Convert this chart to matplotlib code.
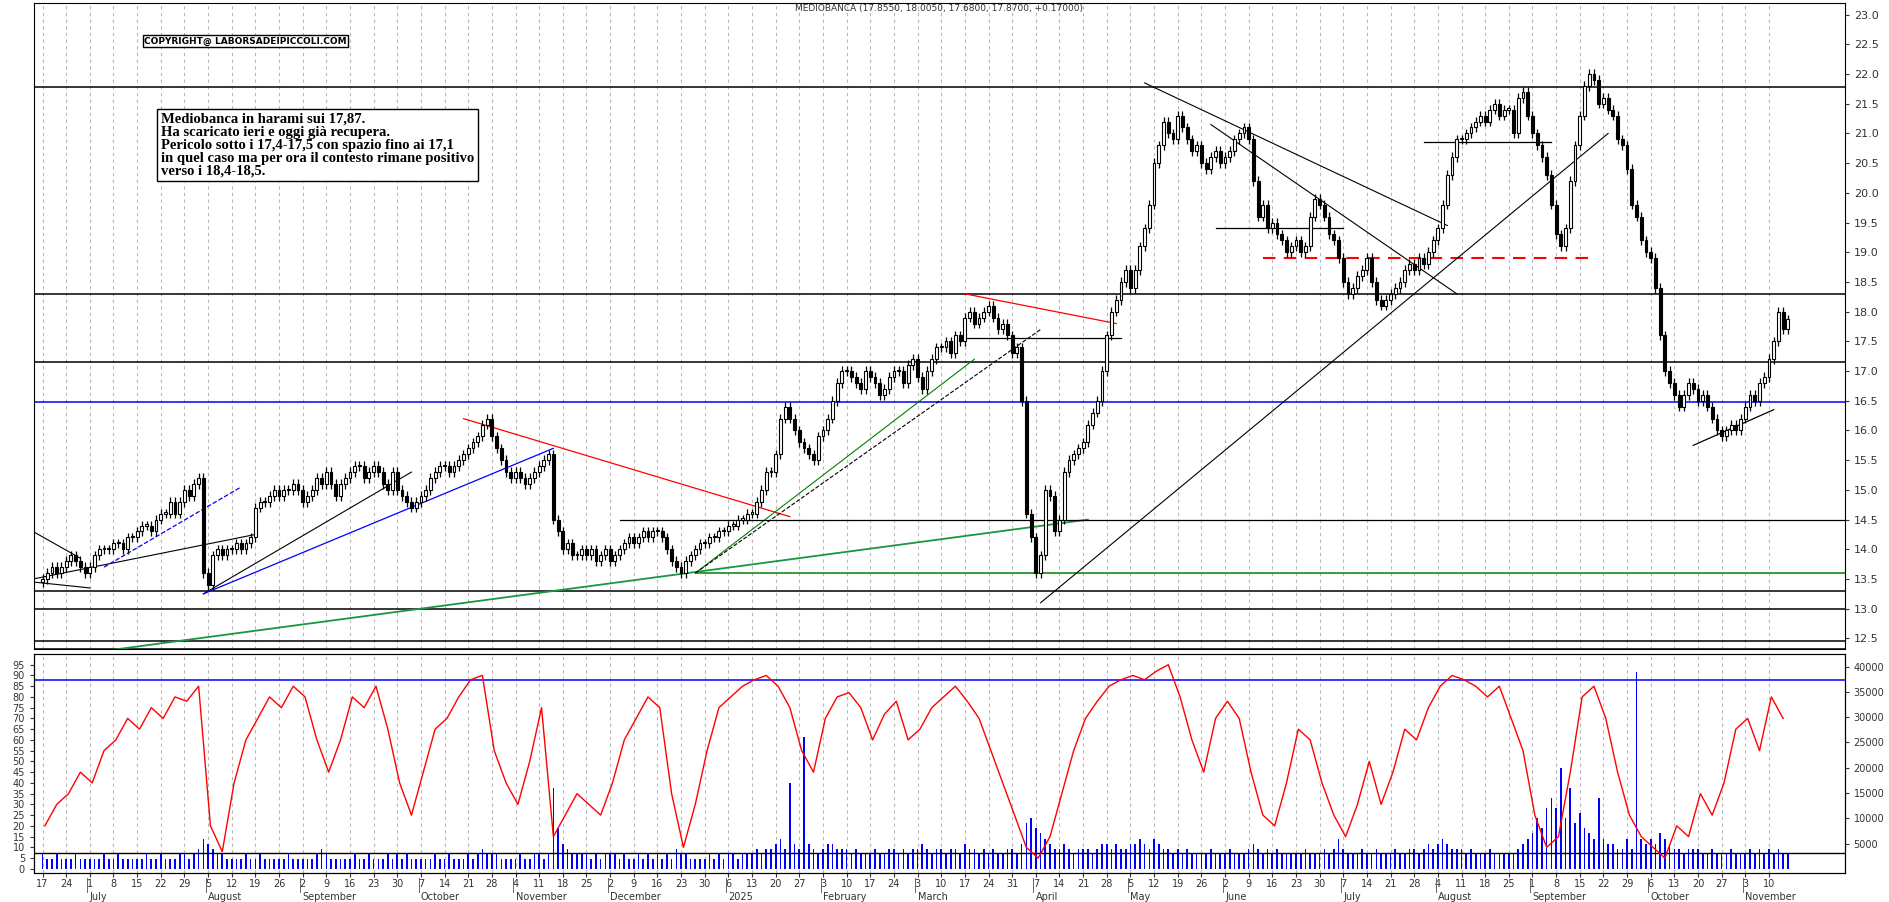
import matplotlib
matplotlib.use("Agg")
import matplotlib.pyplot as plt
import numpy as np
import pandas as pd

# ---------------- data ----------------
closes_weekly = [
 [13.5,13.6,13.7,13.6,13.7],[13.8,13.9,13.8,13.7,13.6],[13.7,13.9,14.0,14.0,14.0],
 [14.1,14.1,14.0,14.2,14.2],[14.3,14.4,14.4,14.3,14.5],[14.6,14.6,14.8,14.6,14.8],
 [15.0,14.9,15.1,15.2,13.6],[13.4,13.9,14.0,13.9,14.0],[14.0,14.1,14.0,14.1,14.2],
 [14.7,14.8,14.8,14.9,15.0],[14.9,15.0,15.0,15.1,15.0],[14.8,14.9,15.0,15.2,15.1],
 [15.3,15.1,14.9,15.1,15.2],[15.3,15.4,15.4,15.2,15.3],[15.4,15.3,15.1,15.0,15.3],
 [15.0,14.9,14.8,14.7,14.8],[14.9,15.0,15.2,15.3,15.4],[15.4,15.3,15.4,15.5,15.6],
 [15.7,15.8,15.9,16.1,16.2],[15.9,15.7,15.5,15.3,15.2],[15.3,15.2,15.1,15.2,15.3],
 [15.4,15.5,15.6,14.5,14.3],[14.0,14.1,13.9,13.9,14.0],[13.9,14.0,13.8,13.9,14.0],
 [13.8,13.9,14.0,14.1,14.2],[14.1,14.2,14.3,14.2,14.3],[14.3,14.2,14.0,13.8,13.7],
 [13.6,13.8,13.9,14.0,14.1],[14.1,14.2,14.2,14.3,14.3],[14.4,14.4,14.5,14.5,14.6],
 [14.6,14.8,15.0,15.3,15.3],[15.6,16.2,16.4,16.2,16.0],[15.8,15.7,15.6,15.5,15.9],
 [16.0,16.2,16.5,16.8,17.0],[17.0,16.9,16.8,16.7,17.0],[16.9,16.8,16.6,16.7,16.9],
 [17.0,17.0,16.8,17.1,17.2],[16.9,16.7,17.0,17.2,17.4],[17.4,17.5,17.3,17.6,17.5],
 [17.9,18.0,17.8,17.9,18.0],[18.1,17.9,17.7,17.8,17.6],[17.3,17.4,16.5,14.6,14.2],
 [13.6,13.9,15.0,14.9,14.3],[14.5,15.3,15.5,15.6,15.7],[15.8,16.1,16.3,16.5,17.0],
 [17.6,18.0,18.2,18.5,18.7],[18.4,18.7,19.1,19.4,19.8],[20.5,20.8,21.2,21.0,20.9],
 [21.3,21.1,20.9,20.7,20.8],[20.5,20.4,20.6,20.7,20.5],[20.6,20.7,20.9,21.0,21.1],
 [20.9,20.2,19.6,19.8,19.4],[19.5,19.3,19.2,19.0,19.1],[19.2,19.0,19.1,19.6,19.9],
 [19.8,19.6,19.3,19.2,18.9],[18.5,18.3,18.4,18.6,18.7],[18.9,18.5,18.2,18.1,18.2],
 [18.3,18.4,18.5,18.7,18.8],[18.7,18.9,18.8,19.0,19.2],[19.4,19.8,20.3,20.6,20.9],
 [20.9,21.0,21.1,21.2,21.3],[21.2,21.4,21.5,21.3,21.4],[21.4,21.0,21.6,21.7,21.3],
 [21.0,20.8,20.6,20.3,19.8],[19.3,19.1,19.4,20.2,20.8],[21.3,21.8,22.0,21.9,21.5],
 [21.6,21.4,21.3,20.9,20.8],[20.4,19.8,19.6,19.2,19.0],[18.9,18.4,17.6,17.0,16.8],
 [16.6,16.4,16.6,16.8,16.7],[16.5,16.6,16.4,16.2,16.0],[15.9,16.0,16.1,16.0,16.2],
 [16.4,16.6,16.5,16.8,16.9],[17.2,17.5,18.0,17.7,17.87],
]
first_open = 13.45

osc_weekly = [
 [20,30],[35,45],[40,55],[60,70],[65,75],[70,80],[78,85],[20,8],[40,60],[70,80],
 [75,85],[80,60],[45,60],[80,75],[85,65],[40,25],[45,65],[70,80],[88,90],[55,40],
 [30,50],[75,15],[25,35],[30,25],[40,60],[70,80],[75,35],[10,30],[55,75],[80,85],
 [88,90],[85,75],[55,45],[70,80],[82,75],[60,72],[78,60],[65,75],[80,85],[78,70],
 [55,40],[25,10],[5,15],[35,55],[70,78],[85,88],[90,88],[92,95],[80,60],[45,70],
 [78,70],[45,25],[20,40],[65,60],[40,25],[15,30],[50,30],[45,65],[60,75],[85,90],
 [88,85],[80,85],[70,55],[25,10],[15,45],[80,85],[70,45],[25,15],[10,5],[20,15],
 [35,25],[40,65],[70,55],[80,70],
]

vol_weekly = [  # thousands
 [3,2,2,3,2],[2,2,3,2,2],[2,2,2,3,2],[2,3,2,2,2],[2,2,3,2,2],[3,2,2,2,3],
 [3,2,3,4,6],[5,4,3,3,2],[2,2,2,3,2],[2,3,2,2,2],[2,2,3,2,2],[2,2,2,3,4],
 [3,2,2,2,2],[2,3,2,2,3],[2,2,2,3,2],[3,2,3,2,2],[2,2,2,3,2],[2,3,2,2,2],
 [3,2,3,4,3],[3,3,2,2,2],[2,3,2,2,3],[3,2,3,16,8],[5,4,3,3,3],[3,2,3,2,3],
 [3,3,2,3,2],[2,3,2,3,2],[3,2,3,2,4],[3,3,2,2,2],[2,3,2,3,2],[3,3,2,3,3],
 [3,4,3,4,4],[5,6,4,17,5],[4,26,5,4,3],[4,5,5,4,4],[4,3,4,3,3],[3,4,3,3,4],
 [4,3,4,3,4],[4,5,4,3,4],[4,3,4,4,3],[5,4,4,3,4],[3,4,3,3,4],[4,3,5,9,10],
 [8,7,6,5,4],[4,5,4,3,4],[4,4,3,4,5],[5,4,5,4,4],[5,5,6,5,4],[6,5,4,4,3],
 [4,3,4,3,3],[3,3,4,3,3],[3,4,3,3,3],[4,5,4,3,4],[3,4,3,3,3],[3,3,4,3,3],
 [3,4,3,4,6],[4,3,3,3,4],[3,3,4,3,3],[3,4,3,3,4],[4,3,4,5,4],[5,6,5,4,4],
 [4,3,4,3,3],[3,4,3,3,3],[3,3,4,5,6],[7,10,8,12,14],[12,20,10,16,9],[11,8,7,6,14],
 [6,5,5,4,4],[6,4,39,6,5],[6,5,7,6,5],[4,4,3,4,4],[4,3,3,4,3],[3,3,4,3,3],
 [3,4,3,4,3],[4,3,4,3,3],
]

# price levels / trendlines: (x0 day index, y0, x1 day index, y1, color, style, lw)
trendlines = [
 (-2,14.3,8,13.85,'black','-',0.8),(-2,13.45,10,13.35,'black','-',0.8),
 (-2,13.5,45,14.25,'black','-',0.8),
 (13,13.7,42,15.05,'blue','--',0.9),
 (34,13.25,78,15.3,'black','-',0.8),(34,13.25,108,15.7,'blue','-',0.9),
 (89,16.2,158,14.55,'red','-',0.9),
 (14,12.3,221,14.5,'#1a9641','-',1.3),
 (138,13.6,197,17.2,'green','-',0.8),(138,13.6,211,17.7,'black','--',0.8),
 (195,18.3,227,17.8,'red','-',0.9),(194,17.55,228,17.55,'black','-',0.9),
 (211,13.1,331,21.0,'black','-',0.8),
 (233,21.85,297,19.45,'black','-',0.8),(247,21.15,299,18.3,'black','-',0.8),
 (248,19.4,275,19.4,'black','-',0.9),
 (292,20.85,319,20.85,'black','-',0.9),
 (349,15.75,366,16.35,'black','-',0.9),
 (122,14.5,386,14.5,'black','-',0.9),
]
hlevels = [(21.78,'black'),(18.3,'black'),(17.15,'black'),(13.3,'black'),
           (13.0,'black'),(12.45,'black'),(12.32,'black'),(16.48,'blue')]

note = ("Mediobanca in harami sui 17,87.\nHa scaricato ieri e oggi già recupera.\n"
        "Pericolo sotto i 17,4-17,5 con spazio fino ai 17,1\n"
        "in quel caso ma per ora il contesto rimane positivo\nverso i 18,4-18,5.")
title = "MEDIOBANCA (17.8550, 18.0050, 17.6800, 17.8700, +0.17000)"

# --------------- derived -------------
closes = np.array([v for w in closes_weekly for v in w])
n = len(closes)
opens = np.concatenate([[first_open], closes[:-1]])
highs = np.maximum(opens, closes) + 0.08
lows = np.minimum(opens, closes) - 0.08
dates = pd.bdate_range("2024-06-17", periods=n)
idx = np.arange(n)
osc = np.array([v for w in osc_weekly for v in w])
osc_x = np.array([wk*5 + (0.5 if j == 0 else 3) for wk in range(len(osc_weekly)) for j in range(2)])
vol = np.array([v for w in vol_weekly for v in w])[:n] * 1000

fig = plt.figure(figsize=(18.9, 9.02), dpi=100)
ax = fig.add_axes([0.018, 0.281, 0.958, 0.716])
ax2 = fig.add_axes([0.018, 0.032, 0.958, 0.243])
xl = (-1.8, 381)
for a in (ax, ax2):
    a.set_xlim(*xl)
    for m in idx[::5]:
        a.axvline(m, color='#b8b8b8', ls=(0, (3, 3)), lw=0.8, zorder=0)
    a.tick_params(labelsize=8, colors='#333333', length=3)

# candles
w = 0.6
for i in idx:
    o, c = opens[i], closes[i]
    ax.vlines(i, lows[i], highs[i], color='black', lw=0.9, zorder=3)
    up = c >= o
    ax.bar(i, max(abs(c - o), 0.02), bottom=min(o, c), width=w,
           color='white' if up else 'black', edgecolor='black', lw=0.8, zorder=4)

for y, c in hlevels:
    ax.axhline(y, color=c, lw=1.1, zorder=2)
ax.hlines(13.6, 138, 386, color='green', lw=1.1, zorder=2)
ax.hlines(18.9, 258, 328, color='red', lw=1.5, ls=(0, (6, 4)), zorder=2)
for x0, y0, x1, y1, c, s, lw in trendlines:
    ax.plot([x0, x1], [y0, y1], color=c, ls=s, lw=lw, zorder=2)

ax.set_ylim(12.33, 23.2)
ax.yaxis.tick_right()
ax.set_yticks(np.arange(12.5, 23.01, 0.5))
ax.set_yticklabels([f"{v:.1f}" for v in np.arange(12.5, 23.01, 0.5)])
ax.set_xticks([])
ax.text(0.5, 0.998, title, transform=ax.transAxes, ha='center', va='top', fontsize=6.5, color='#333333')
ax.text(21.5, 22.55, "COPYRIGHT@ LABORSADEIPICCOLI.COM", fontsize=6.5, fontweight='bold',
        family='DejaVu Sans', va='center',
        bbox=dict(boxstyle='square,pad=0.15', fc='white', ec='black', lw=1))
ax.text(25.0, 21.35, note, fontsize=10.5, family='Liberation Serif', fontweight='bold',
        va='top', linespacing=1.0,
        bbox=dict(boxstyle='square,pad=0.25', fc='white', ec='black', lw=1), zorder=6)

# lower panel
ax2.set_ylim(-2, 100)
ax2.bar(idx, vol * (100 / 42500.0), width=0.35, color='blue', zorder=2)
ax2.plot(osc_x, osc, color='red', lw=1.0, zorder=3)
ax2.axhline(88, color='blue', lw=1.1)
ax2.axhline(7.5, color='black', lw=1.0)
ax2.set_yticks(np.arange(0, 96, 5))
ax2.set_yticklabels([str(v) for v in range(0, 96, 5)], fontsize=7)
axv = ax2.twinx()
axv.set_ylim(-2 * 425, 100 * 425)
axv.set_yticks(np.arange(5000, 40001, 5000))
axv.set_yticklabels([str(v) for v in range(5000, 40001, 5000)], fontsize=7)
axv.tick_params(colors='#333333', length=3)

# x labels
mondays = idx[::5]
ax2.set_xticks(mondays)
ax2.set_xticklabels([str(dates[m].day) for m in mondays], fontsize=7)
ax2.tick_params(axis='x', pad=1)
prev = None
for m in mondays:
    d = dates[m]
    if d.month != prev:
        name = "2025" if (d.year == 2025 and d.month == 1) else d.strftime("%B")
        if m > 3:
            ax2.text(m, -0.085, name, transform=ax2.get_xaxis_transform(), fontsize=7,
                     va='top', ha='left', color='#333333')
            ax2.plot([m - 0.5, m - 0.5], [-0.085, -0.02], transform=ax2.get_xaxis_transform(),
                     color='#666666', lw=0.7, clip_on=False)
        prev = d.month

fig.savefig("out.png", dpi=100)
